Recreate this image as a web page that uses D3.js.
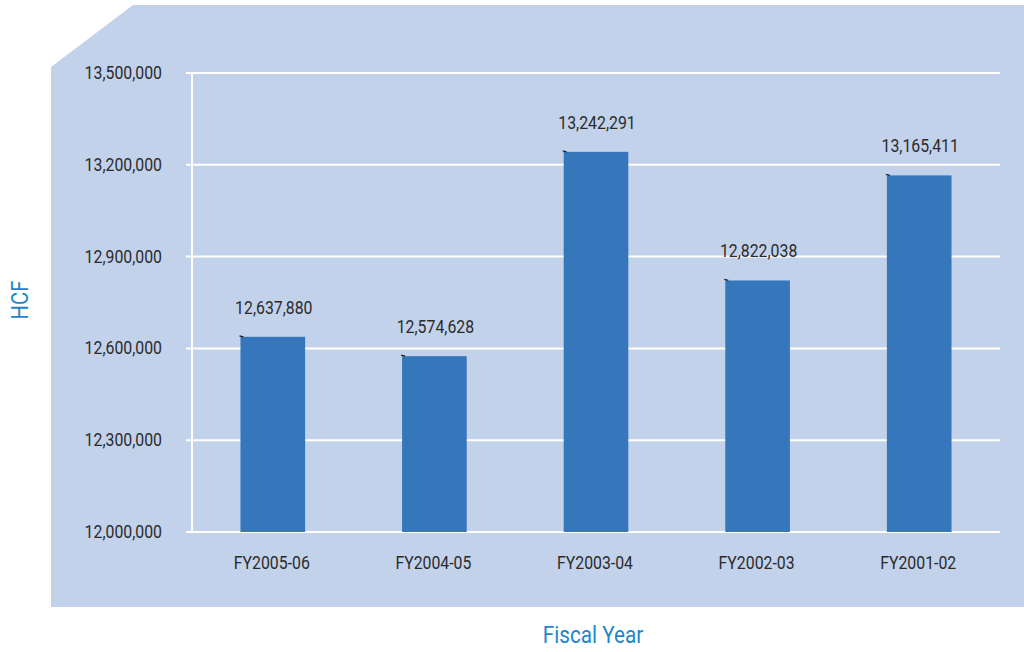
<!DOCTYPE html>
<html><head><meta charset="utf-8">
<script src="https://cdn.jsdelivr.net/npm/d3@7"></script>
<style>body{margin:0;background:#fff;}svg{display:block;}</style>
</head><body>
<svg id="c" width="1024" height="652"></svg>
<script>
const categories = ["FY2005-06","FY2004-05","FY2003-04","FY2002-03","FY2001-02"];
const values = [12637880, 12574628, 13242291, 12822038, 13165411];
const yTicks = [12000000, 12300000, 12600000, 12900000, 13200000, 13500000];
const yTitle = "HCF";
const xTitle = "Fiscal Year";

const svg = d3.select("#c");
const panelColor = "#c2d2eb", barColor = "#3677bb", textColor = "#2b2b2b", titleColor = "#1f87c9";
const FONT = "Roboto, 'Open Sans', sans-serif";
const SX = 0.88;

// panel with cut corner
svg.append("path")
  .attr("d", "M51,67 L133,5 L1024,5 L1024,607 L51,607 Z")
  .attr("fill", panelColor);

const m = {left:192, right:1000, top:73, bottom:532};
const x = d3.scaleBand().domain(categories).range([m.left, m.right]).paddingInner(0.6).paddingOuter(0.3);
const y = d3.scaleLinear().domain([12000000, 13500000]).range([m.bottom, m.top]);
const fmt = d3.format(",");

function condText(g, tx, ty, anchor, size, color, str, rot) {
  return g.append("text")
    .attr("transform", `translate(${tx},${ty})${rot ? " rotate(" + rot + ")" : ""} scale(${SX},1)`)
    .attr("text-anchor", anchor)
    .attr("font-family", FONT)
    .attr("font-size", size)
    .attr("fill", color)
    .text(str);
}

// gridlines
svg.append("g").selectAll("line").data(yTicks).join("line")
  .attr("x1", m.left - 6).attr("x2", m.right)
  .attr("y1", d => y(d)).attr("y2", d => y(d))
  .attr("stroke", "#fff").attr("stroke-width", 2);

// y axis line
svg.append("line").attr("x1", m.left).attr("x2", m.left)
  .attr("y1", y(13500000)).attr("y2", y(12000000))
  .attr("stroke", "#fff").attr("stroke-width", 2);

// y tick labels
const gy = svg.append("g");
yTicks.forEach(t => condText(gy, 162, y(t) + 6, "end", 18, textColor, fmt(t)));

// bars
svg.append("g").selectAll("rect").data(values).join("rect")
  .attr("x", (d,i) => x(categories[i]))
  .attr("y", d => y(d))
  .attr("width", x.bandwidth())
  .attr("height", d => y(12000000) - y(d))
  .attr("fill", barColor);

// tiny leader marks
svg.append("g").selectAll("line").data(values).join("line")
  .attr("x1", (d,i) => x(categories[i]) - 1).attr("x2", (d,i) => x(categories[i]) + 3)
  .attr("y1", d => y(d) - 1).attr("y2", d => y(d))
  .attr("stroke", "#222").attr("stroke-width", 1.2);

// value labels
const gl = svg.append("g");
values.forEach((v,i) => condText(gl, x(categories[i]) + x.bandwidth()/2 + 1, y(v) - 23, "middle", 18, textColor, fmt(v)));

// x labels
const gx = svg.append("g");
categories.forEach(c => condText(gx, x(c) + x.bandwidth()/2 - 1, 569, "middle", 18, textColor, c));

// titles
condText(svg, 593, 643, "middle", 23.5, titleColor, xTitle);
condText(svg, 28, 300, "middle", 23, titleColor, yTitle, -90);
</script>
</body></html>
